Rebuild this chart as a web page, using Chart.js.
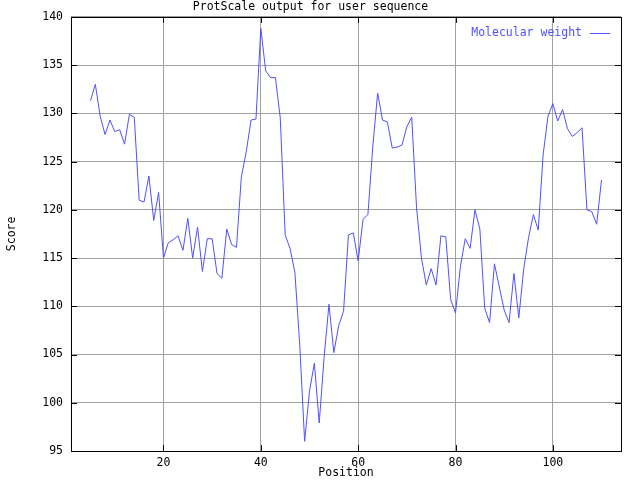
<!DOCTYPE html>
<html>
<head>
<meta charset="utf-8">
<script src="https://cdn.jsdelivr.net/npm/chart.js@4/dist/chart.umd.min.js"></script>
<style>
  html, body { margin: 0; padding: 0; background: #fff; }
  #wrap { width: 640px; height: 480px; }
</style>
</head>
<body>
<div id="wrap"><canvas id="chartScale"></canvas></div>
<script>
// positions along the sequence (window centre)
const positions = [
  5, 6, 7, 8, 9, 10, 11, 12, 13, 14, 15, 16, 17, 18, 19, 20, 21, 22, 23, 24,
  25, 26, 27, 28, 29, 30, 31, 32, 33, 34, 35, 36, 37, 38, 39, 40, 41, 42, 43, 44,
  45, 46, 47, 48, 49, 50, 51, 52, 53, 54, 55, 56, 57, 58, 59, 60, 61, 62, 63, 64,
  65, 66, 67, 68, 69, 70, 71, 72, 73, 74, 75, 76, 77, 78, 79, 80, 81, 82, 83, 84,
  85, 86, 87, 88, 89, 90, 91, 92, 93, 94, 95, 96, 97, 98, 99, 100, 101, 102, 103, 104,
  105, 106, 107, 108, 109, 110
];
// molecular weight score
const scores = [
  131.3, 133.0, 129.7, 127.8, 129.3, 128.1, 128.3, 126.8, 129.9, 129.6,
  121.0, 120.8, 123.5, 118.9, 121.8, 115.0, 116.6, 116.9, 117.3, 115.8,
  119.1, 115.0, 118.2, 113.6, 117.0, 117.0, 113.4, 112.9, 118.0, 116.4,
  116.1, 123.4, 126.0, 129.3, 129.4, 138.8, 134.4, 133.7, 133.7, 129.5,
  117.4, 116.0, 113.5, 106.0, 96.0, 101.2, 104.1, 97.9, 104.7, 110.2,
  105.2, 108.0, 109.5, 117.4, 117.6, 114.7, 119.0, 119.5, 126.5, 132.1,
  129.3, 129.1, 126.4, 126.5, 126.7, 128.6, 129.6, 120.2, 115.0, 112.2,
  113.9, 112.2, 117.3, 117.2, 110.7, 109.3, 114.1, 117.0, 116.0, 120.0,
  118.0, 109.8, 108.3, 114.4, 112.0, 109.6, 108.3, 113.4, 108.8, 113.8,
  117.1, 119.5, 117.9, 125.7, 129.7, 131.0, 129.2, 130.4, 128.4, 127.6,
  128.0, 128.5, 120.0, 119.8, 118.5, 123.1
];
const xTicks = [20, 40, 60, 80, 100];
const yTicks = [95, 100, 105, 110, 115, 120, 125, 130, 135, 140];

const lineColor = "#5050ff";
const gridColor = "#a0a0a0";
const monoFont = { family: "'DejaVu Sans Mono', 'Liberation Mono', monospace", size: 11.5 };

// gnuplot style frame: border plus inward tick marks on every side
const framePlugin = {
  id: "frame",
  afterDraw(chart) {
    const { ctx, chartArea: a, scales } = chart;
    const len = 6;
    ctx.save();
    ctx.strokeStyle = "#000";
    ctx.lineWidth = 1;
    ctx.beginPath();
    xTicks.forEach((t) => {
      const px = Math.round(scales.x.getPixelForValue(t)) + 0.5;
      ctx.moveTo(px, a.bottom);
      ctx.lineTo(px, a.bottom - len);
      ctx.moveTo(px, a.top);
      ctx.lineTo(px, a.top + len);
    });
    yTicks.forEach((t) => {
      const py = Math.round(scales.y.getPixelForValue(t)) + 0.5;
      ctx.moveTo(a.left, py);
      ctx.lineTo(a.left + len, py);
      ctx.moveTo(a.right, py);
      ctx.lineTo(a.right - len, py);
    });
    ctx.stroke();
    ctx.strokeRect(Math.round(a.left) + 0.5, Math.round(a.top) + 0.5,
      Math.round(a.right - a.left), Math.round(a.bottom - a.top));
    ctx.restore();
  },
};

// gnuplot key: text first, then the line sample, top right inside the plot
const keyPlugin = {
  id: "key",
  afterDraw(chart) {
    const { ctx, chartArea: a } = chart;
    const ds = chart.data.datasets[0];
    const y = Math.round(a.top + 16) + 0.5;
    const lineEnd = a.right - 11;
    const lineStart = lineEnd - 20;
    ctx.save();
    ctx.font = "11.5px " + monoFont.family;
    ctx.fillStyle = ds.borderColor;
    ctx.textAlign = "right";
    ctx.textBaseline = "middle";
    ctx.fillText(ds.label, lineStart - 8, y);
    ctx.strokeStyle = ds.borderColor;
    ctx.lineWidth = 1;
    ctx.beginPath();
    ctx.moveTo(lineStart, y);
    ctx.lineTo(lineEnd, y);
    ctx.stroke();
    ctx.restore();
  },
};

const points = positions.map((p, i) => ({ x: p, y: scores[i] }));

new Chart(document.getElementById("chartScale"), {
  type: "line",
  data: {
    datasets: [
      {
        label: "Molecular weight",
        data: points,
        borderColor: lineColor,
        backgroundColor: lineColor,
        borderWidth: 1,
        pointRadius: 0,
        tension: 0,
      },
    ],
  },
  options: {
    responsive: true,
    maintainAspectRatio: false,
    animation: false,
    layout: { padding: { left: 0, right: 19, top: 0, bottom: 0 } },
    plugins: {
      title: {
        display: true,
        text: "ProtScale output for user sequence",
        color: "#000",
        font: { ...monoFont, weight: "normal" },
        padding: { top: 0, bottom: 3 },
      },
      legend: { display: false },
      tooltip: { enabled: false },
    },
    scales: {
      x: {
        type: "linear",
        min: 1,
        max: 114,
        afterBuildTicks: (scale) => {
          scale.ticks = xTicks.map((v) => ({ value: v }));
        },
        afterFit: (scale) => {
          scale.height = 29;
        },
        grid: { color: gridColor, drawTicks: false },
        border: { display: false },
        ticks: { color: "#000", font: monoFont, padding: 5, maxRotation: 0 },
        title: {
          display: true,
          text: "Position",
          color: "#000",
          font: monoFont,
          padding: { top: 0, bottom: 0 },
        },
      },
      y: {
        min: 95,
        max: 140,
        afterBuildTicks: (scale) => {
          scale.ticks = yTicks.map((v) => ({ value: v }));
        },
        afterFit: (scale) => {
          scale.width = 71;
        },
        grid: { color: gridColor, drawTicks: false },
        border: { display: false },
        ticks: { color: "#000", font: monoFont, padding: 8 },
        title: {
          display: true,
          text: "Score",
          color: "#000",
          font: monoFont,
          padding: { top: 5, bottom: 0 },
        },
      },
    },
  },
  plugins: [framePlugin, keyPlugin],
});
</script>
</body>
</html>
